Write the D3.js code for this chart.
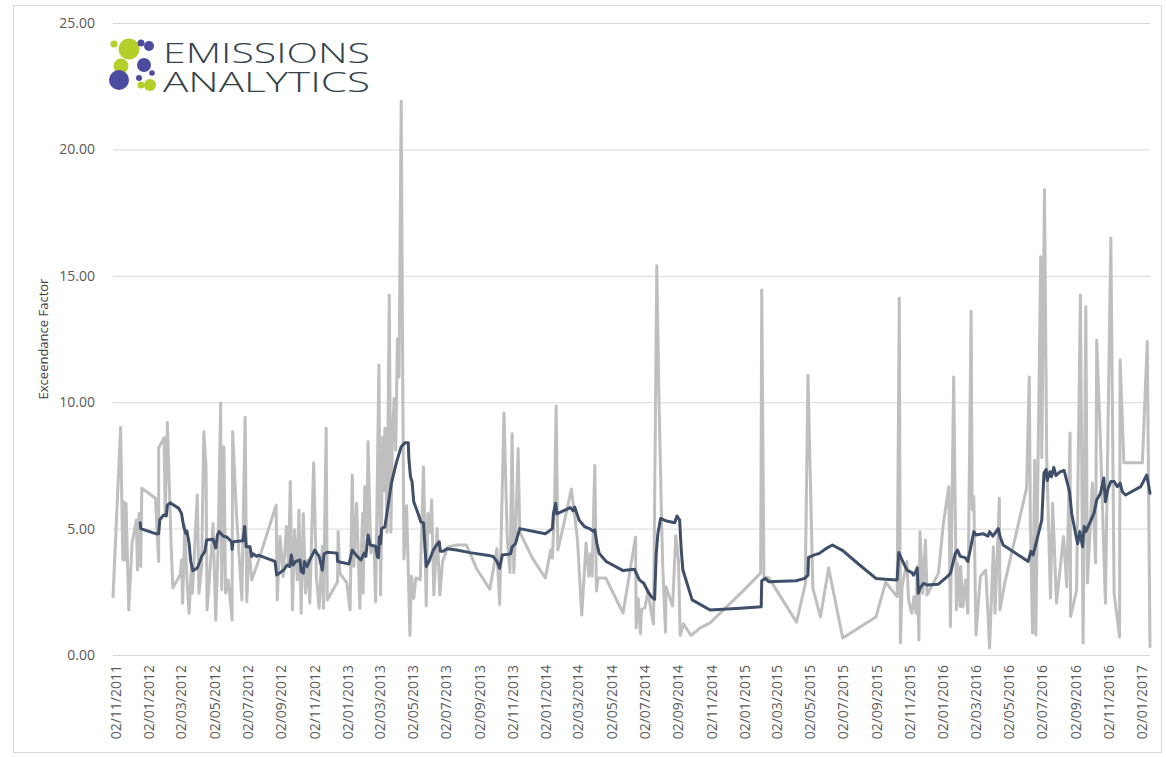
<!DOCTYPE html>
<html>
  <head>
    <meta charset="utf-8">
    <title>Exceendance factor over time</title>
    <meta name="viewport" content="width=device-width, initial-scale=1.0">
    <script src="https://cdn.jsdelivr.net/npm/d3@7/dist/d3.min.js"></script>
    <style>
      body { margin: 0; background: #fff; }
      #chart { display: block; }
      .axis text { font-family: "Open Sans", sans-serif; fill: #595959; }
      .axis .domain { display: none; }
      .grid line { stroke: #d9d9d9; }
    </style>
  </head>

  <body>
    <svg id="chart" width="1166" height="757">
      <rect id="frame"></rect>
      <g id="gridGroup" class="axis grid"></g>
      <g id="xAxisGroup" class="axis"></g>
      <text id="yTitle">Exceendance Factor</text>
      <path id="testLine"></path>
      <path id="avgLine"></path>
      <g id="logo"></g>
    </svg>

    <script>
      // individual test results
      testDates = [
        "2011-10-29","2011-11-12","2011-11-16","2011-11-18","2011-11-20","2011-11-22","2011-11-27","2011-12-03","2011-12-11","2011-12-13",
        "2011-12-16","2011-12-19","2011-12-21","2012-01-15","2012-01-21","2012-01-21","2012-01-31","2012-02-02","2012-02-06","2012-02-13",
        "2012-02-16","2012-03-01","2012-03-03","2012-03-05","2012-03-09","2012-03-13","2012-03-17","2012-03-21","2012-03-23","2012-04-01",
        "2012-04-04","2012-04-09","2012-04-13","2012-04-17","2012-04-19","2012-04-24","2012-04-30","2012-05-05","2012-05-09","2012-05-14",
        "2012-05-16","2012-05-20","2012-05-23","2012-05-28","2012-06-04","2012-06-05","2012-06-12","2012-06-22","2012-06-28","2012-07-01",
        "2012-07-05","2012-07-10","2012-07-19","2012-07-31","2012-08-24","2012-08-26","2012-08-31","2012-09-06","2012-09-12","2012-09-16",
        "2012-09-19","2012-09-23","2012-09-27","2012-10-02","2012-10-05","2012-10-09","2012-10-13","2012-10-17","2012-10-21","2012-10-25",
        "2012-11-01","2012-11-06","2012-11-11","2012-11-17","2012-11-19","2012-11-24","2012-11-26","2012-12-15","2012-12-16","2012-12-19",
        "2013-01-01","2013-01-07","2013-01-11","2013-01-14","2013-01-19","2013-01-25","2013-01-30","2013-01-31","2013-02-03","2013-02-07",
        "2013-02-09","2013-02-14","2013-02-20","2013-02-23","2013-03-01","2013-03-04","2013-03-08","2013-03-10","2013-03-12","2013-03-16",
        "2013-03-20","2013-03-23","2013-03-26","2013-03-29","2013-04-01","2013-04-04","2013-04-07","2013-04-11","2013-04-14","2013-04-16",
        "2013-04-21","2013-04-27","2013-04-30","2013-05-04","2013-05-08","2013-05-16","2013-05-22","2013-05-27","2013-05-30","2013-06-03",
        "2013-06-06","2013-06-10","2013-06-16","2013-06-21","2013-06-26","2013-07-06","2013-07-22","2013-08-09","2013-08-28","2013-09-21",
        "2013-10-04","2013-10-09","2013-10-17","2013-10-23","2013-10-28","2013-11-01","2013-11-04","2013-11-08","2013-11-12","2013-11-15",
        "2013-12-08","2014-01-01","2014-01-11","2014-01-14","2014-01-18","2014-01-21","2014-01-24","2014-02-04","2014-02-18","2014-03-01",
        "2014-03-09","2014-03-17","2014-03-22","2014-03-25","2014-03-28","2014-04-02","2014-04-05","2014-04-08","2014-04-22","2014-05-24",
        "2014-06-16","2014-06-17","2014-06-21","2014-06-25","2014-06-27","2014-07-03","2014-07-09","2014-07-15","2014-07-19","2014-07-25",
        "2014-07-29","2014-08-03","2014-08-05","2014-08-10","2014-08-11","2014-08-23","2014-08-29","2014-09-03","2014-09-06","2014-09-12",
        "2014-09-26","2014-10-13","2014-10-31","2014-12-26","2015-02-01","2015-02-03","2015-02-07","2015-02-16","2015-04-08","2015-04-24",
        "2015-04-29","2015-05-08","2015-05-22","2015-06-06","2015-07-02","2015-09-01","2015-09-19","2015-10-10","2015-10-14","2015-10-16",
        "2015-10-19","2015-10-28","2015-10-31","2015-11-06","2015-11-10","2015-11-14","2015-11-16","2015-11-19","2015-11-21","2015-11-26",
        "2015-12-01","2015-12-04","2015-12-25","2016-01-03","2016-01-13","2016-01-16","2016-01-22","2016-01-27","2016-01-29","2016-02-03",
        "2016-02-04","2016-02-08","2016-02-13","2016-02-17","2016-02-23","2016-02-25","2016-02-28","2016-03-03","2016-03-11","2016-03-21",
        "2016-03-28","2016-04-04","2016-04-07","2016-04-15","2016-04-16","2016-04-25","2016-06-04","2016-06-09","2016-06-11","2016-06-15",
        "2016-06-19","2016-06-21","2016-06-30","2016-07-02","2016-07-07","2016-07-11","2016-07-18","2016-07-22","2016-07-29","2016-08-11",
        "2016-08-17","2016-08-23","2016-08-24","2016-09-04","2016-09-11","2016-09-16","2016-09-21","2016-09-24","2016-10-03","2016-10-09",
        "2016-10-11","2016-10-18","2016-10-27","2016-11-06","2016-11-12","2016-11-22","2016-11-23","2016-11-30","2017-01-03","2017-01-12",
        "2017-01-17"
      ];
      testValues = [
        2.3, 9.0, 3.76, 6.06, 3.76, 6.0, 1.78, 4.4, 5.34, 3.36,
        5.6, 3.5, 6.6, 6.2, 3.7, 8.2, 8.6, 5.5, 9.2, 4.3,
        2.65, 3.2, 3.76, 2.05, 5.1, 2.97, 1.65, 3.5, 2.44, 6.33,
        2.44, 3.5, 8.83, 7.45, 1.78, 3.24, 5.2, 1.38, 4.03, 9.97,
        2.57, 8.24, 2.44, 2.97, 1.38, 8.83, 5.6, 2.18, 9.4, 2.1,
        4.3, 2.97, 3.5, 4.3, 5.93, 2.18, 4.7, 3.1, 5.08, 3.5,
        6.86, 1.78, 4.95, 2.97, 5.74, 1.65, 5.6, 2.44, 3.76, 2.05,
        7.6, 3.1, 1.85, 4.3, 1.85, 8.97, 2.18, 2.9, 4.88, 3.24,
        2.85, 1.78, 7.12, 3.5, 6.0, 1.85, 5.6, 2.44, 6.66, 4.8,
        8.44, 4.03, 4.28, 2.1, 11.47, 2.37, 8.6, 6.5, 8.98, 4.86,
        14.24, 4.86, 8.8, 10.15, 8.1, 12.5, 11.0, 21.9, 10.3, 3.8,
        5.9, 0.77, 3.12, 2.23, 3.05, 2.97, 7.44, 1.94, 5.6, 4.86,
        6.13, 2.37, 5.0, 2.37, 3.7, 4.27, 4.35, 4.35, 3.4, 2.6,
        4.2, 2.0, 9.57, 4.6, 3.26, 8.75, 3.26, 5.18, 8.17, 4.86,
        3.84, 3.05, 4.15, 3.84, 5.9, 9.85, 4.15, 5.18, 6.57, 4.6,
        1.58, 4.43, 3.12, 4.0, 3.12, 7.5, 2.53, 3.05, 3.05, 1.66,
        4.67, 1.07, 2.23, 0.84, 1.8, 1.86, 2.53, 1.66, 1.23, 15.4,
        10.15, 5.18, 3.5, 0.9, 2.7, 1.94, 4.72, 3.7, 0.77, 1.23,
        0.77, 1.07, 1.27, 2.44, 3.24, 14.44, 3.1, 3.05, 1.3, 2.8,
        11.07, 2.65, 1.5, 3.44, 0.67, 1.5, 2.88, 2.31, 14.12, 0.47,
        2.7, 3.7, 2.18, 1.65, 2.31, 1.65, 3.5, 0.59, 4.88, 2.44,
        4.55, 2.37, 3.24, 5.2, 6.66, 1.12, 11.0, 1.78, 3.6, 1.91,
        3.5, 1.9, 2.97, 1.65, 13.6, 5.74, 6.26, 0.79, 3.1, 3.36,
        0.28, 4.28, 1.65, 6.2, 1.78, 2.85, 6.6, 11.0, 5.2, 0.87,
        7.7, 0.79, 15.75, 7.8, 18.4, 7.85, 2.25, 6.0, 2.05, 4.68,
        2.7, 8.78, 1.52, 2.57, 14.24, 0.47, 13.78, 2.85, 6.8, 3.64,
        12.46, 8.39, 2.05, 16.5, 2.44, 0.71, 11.67, 7.6, 7.6, 12.4,
        0.33
      ];

      // rolling average
      avgDates = [
        "2011-12-18","2011-12-19","2012-01-15","2012-01-21","2012-01-23","2012-01-30","2012-02-04","2012-02-06","2012-02-11","2012-02-27",
        "2012-03-03","2012-03-07","2012-03-11","2012-03-13","2012-03-17","2012-03-20","2012-03-24","2012-04-01","2012-04-06","2012-04-09",
        "2012-04-15","2012-04-18","2012-04-30","2012-05-05","2012-05-08","2012-05-11","2012-05-19","2012-05-25","2012-06-03","2012-06-04",
        "2012-06-06","2012-06-24","2012-06-27","2012-06-30","2012-07-07","2012-07-10","2012-07-13","2012-07-19","2012-07-22","2012-08-22",
        "2012-08-25","2012-09-07","2012-09-13","2012-09-18","2012-09-21","2012-09-24","2012-09-29","2012-10-07","2012-10-09","2012-10-13",
        "2012-10-15","2012-10-20","2012-10-25","2012-11-03","2012-11-11","2012-11-17","2012-11-20","2012-11-26","2012-12-14","2012-12-15",
        "2013-01-05","2013-01-11","2013-01-20","2013-01-27","2013-02-02","2013-02-05","2013-02-09","2013-02-13","2013-02-23","2013-02-26",
        "2013-02-28","2013-03-02","2013-03-04","2013-03-06","2013-03-12","2013-03-24","2013-04-02","2013-04-11","2013-04-18","2013-04-24",
        "2013-04-25","2013-04-28","2013-05-01","2013-05-04","2013-05-12","2013-05-17","2013-05-22","2013-05-27","2013-06-01","2013-06-09",
        "2013-06-15","2013-06-20","2013-06-22","2013-06-27","2013-07-04","2013-07-22","2013-08-15","2013-09-16","2013-09-27","2013-10-04",
        "2013-10-09","2013-10-14","2013-10-29","2013-11-01","2013-11-07","2013-11-15","2014-01-01","2014-01-14","2014-01-16","2014-01-20",
        "2014-01-22","2014-02-16","2014-02-21","2014-02-24","2014-02-28","2014-03-04","2014-03-14","2014-03-23","2014-03-31","2014-04-02",
        "2014-04-06","2014-04-10","2014-04-23","2014-05-24","2014-06-14","2014-06-23","2014-07-01","2014-07-09","2014-07-15","2014-07-21",
        "2014-07-24","2014-07-27","2014-08-01","2014-08-12","2014-08-27","2014-08-31","2014-09-05","2014-09-08","2014-09-11","2014-09-28",
        "2014-10-31","2014-12-26","2015-02-02","2015-02-03","2015-02-10","2015-02-16","2015-04-07","2015-04-23","2015-04-29","2015-04-30",
        "2015-05-11","2015-05-20","2015-06-02","2015-06-13","2015-07-02","2015-08-02","2015-09-01","2015-09-18","2015-10-10","2015-10-13",
        "2015-10-19","2015-10-28","2015-11-06","2015-11-09","2015-11-14","2015-11-16","2015-11-18","2015-11-21","2015-11-28","2015-12-04",
        "2015-12-25","2016-01-10","2016-01-16","2016-01-25","2016-01-29","2016-02-03","2016-02-12","2016-02-17","2016-02-22","2016-02-28",
        "2016-03-03","2016-03-16","2016-03-25","2016-03-28","2016-04-03","2016-04-13","2016-04-16","2016-04-22","2016-06-07","2016-06-12",
        "2016-06-16","2016-06-23","2016-07-02","2016-07-06","2016-07-10","2016-07-12","2016-07-17","2016-07-20","2016-07-24","2016-07-28",
        "2016-08-05","2016-08-12","2016-08-22","2016-08-26","2016-09-04","2016-09-06","2016-09-10","2016-09-15","2016-09-18","2016-09-21",
        "2016-10-06","2016-10-11","2016-10-18","2016-10-24","2016-10-27","2016-11-01","2016-11-06","2016-11-12","2016-11-18","2016-11-23",
        "2016-11-27","2016-12-03","2016-12-31","2017-01-11","2017-01-17"
      ];
      avgValues = [
        5.23, 5.0, 4.8, 4.8, 5.34, 5.54, 5.5, 5.93, 6.02, 5.8,
        5.6, 5.08, 4.8, 4.9, 4.4, 3.7, 3.33, 3.44, 3.7, 3.9,
        4.1, 4.55, 4.58, 4.23, 4.75, 4.88, 4.7, 4.67, 4.48, 4.18,
        4.48, 4.52, 5.08, 4.28, 4.28, 3.9, 4.0, 3.9, 3.95, 3.7,
        3.16, 3.36, 3.56, 3.5, 3.96, 3.56, 3.7, 3.76, 3.3, 3.24,
        3.7, 3.5, 3.76, 4.15, 3.9, 3.36, 4.0, 4.06, 4.03, 3.7,
        3.6, 4.15, 3.9, 3.76, 4.03, 3.9, 4.75, 4.35, 4.3, 3.9,
        3.85, 4.68, 4.4, 5.0, 5.07, 6.8, 7.6, 8.24, 8.4, 8.4,
        7.8, 7.06, 6.86, 6.06, 5.6, 5.27, 5.23, 3.5, 3.7, 4.15,
        4.35, 4.48, 4.1, 4.1, 4.2, 4.15, 4.05, 3.95, 3.9, 3.7,
        3.43, 3.96, 4.0, 4.28, 4.4, 5.0, 4.8, 5.0, 5.6, 6.0,
        5.58, 5.83, 5.7, 5.85, 5.6, 5.34, 5.08, 5.0, 4.88, 4.95,
        4.4, 4.02, 3.7, 3.34, 3.39, 2.97, 2.84, 2.5, 2.31, 2.2,
        4.02, 4.8, 5.4, 5.3, 5.23, 5.5, 5.34, 4.15, 3.36, 2.18,
        1.78, 1.85, 1.91, 2.94, 3.03, 2.9, 2.94, 3.03, 3.16, 3.86,
        3.96, 4.02, 4.22, 4.35, 4.13, 3.56, 3.03, 3.0, 2.97, 4.05,
        3.76, 3.36, 3.26, 3.16, 3.33, 3.44, 2.44, 2.64, 2.84, 2.77,
        2.8, 3.1, 3.23, 4.02, 4.15, 3.9, 3.85, 3.7, 4.22, 4.88,
        4.75, 4.8, 4.7, 4.88, 4.7, 5.0, 4.7, 4.35, 3.7, 4.1,
        3.96, 4.55, 5.34, 7.2, 7.34, 6.9, 7.25, 7.05, 7.42, 7.1,
        7.25, 7.3, 6.46, 5.6, 4.6, 4.4, 4.88, 4.28, 5.08, 4.88,
        5.6, 6.13, 6.4, 7.0, 6.06, 6.6, 6.86, 6.86, 6.66, 6.8,
        6.46, 6.33, 6.66, 7.12, 6.4
      ];

      // axis
      yTicks = [0, 5, 10, 15, 20, 25];

      // logo drawing (decoration, not data)
      logoDots = [
        {cx: 114, cy: 44, r: 3.5, fill: "#b5cf2a"},
        {cx: 129, cy: 49, r: 10.5, fill: "#b5cf2a"},
        {cx: 141, cy: 43, r: 3.5, fill: "#4c4ba0"},
        {cx: 149, cy: 46, r: 5, fill: "#4c4ba0"},
        {cx: 121, cy: 66, r: 7.5, fill: "#b5cf2a"},
        {cx: 144, cy: 65, r: 7, fill: "#4c4ba0"},
        {cx: 152, cy: 73, r: 2.8, fill: "#4c4ba0"},
        {cx: 119, cy: 80, r: 10, fill: "#4c4ba0"},
        {cx: 139, cy: 78, r: 3, fill: "#4c4ba0"},
        {cx: 141, cy: 85, r: 3.5, fill: "#b5cf2a"},
        {cx: 150, cy: 85, r: 6, fill: "#b5cf2a"}
      ];

      // elements
      chart = d3.select("#chart");
      width = 1166;
      height = 757;
      margin = {top: 23, bottom: 102, left: 113, right: 16};

      parseDate = d3.timeParse("%Y-%m-%d");
      testData = testDates.map((d, i) => ({date: parseDate(d), value: testValues[i]}));
      avgData = avgDates.map((d, i) => ({date: parseDate(d), value: avgValues[i]}));

      x = d3.scaleTime()
          .domain(d3.extent(testData, d => d.date))
          .range([margin.left, width - margin.right]);

      y = d3.scaleLinear()
          .domain([0, 25])
          .range([height - margin.bottom, margin.top]);

      // chart area border
      chart.select("#frame")
          .attr("x", 13.5)
          .attr("y", 5.5)
          .attr("width", 1148)
          .attr("height", 747)
          .attr("fill", "none")
          .attr("stroke", "#d9d9d9");

      // y axis with gridlines
      yAxis = d3.axisLeft(y)
          .tickValues(yTicks)
          .tickFormat(d3.format(".2f"))
          .tickSize(-(width - margin.left - margin.right))
          .tickPadding(18);

      chart.select("#gridGroup")
          .attr("transform", "translate(" + margin.left + ",0)")
          .call(yAxis)
          .selectAll("text")
          .style("font-size", "14px");

      // x axis, every two months on the 2nd
      tickDates = d3.timeMonth.every(2)
          .range(new Date(2011, 10, 1), new Date(2017, 1, 1))
          .map(d => d3.timeDay.offset(d, 1));

      xAxis = d3.axisBottom(x)
          .tickValues(tickDates)
          .tickFormat(d3.timeFormat("%d/%m/%Y"))
          .tickSize(0);

      chart.select("#xAxisGroup")
          .attr("transform", "translate(0," + (height - margin.bottom) + ")")
          .call(xAxis)
          .selectAll("text")
          .style("font-size", "14px")
          .attr("text-anchor", "end")
          .attr("transform", "rotate(-90)")
          .attr("x", -10)
          .attr("y", 0)
          .attr("dy", "0.35em");

      chart.select("#yTitle")
          .attr("transform", "translate(48," + ((margin.top + height - margin.bottom) / 2) + ") rotate(-90)")
          .attr("text-anchor", "middle")
          .style("font-family", "'Open Sans', sans-serif")
          .style("font-size", "13px")
          .attr("fill", "#404040");

      // lines
      linePath = d3.line()
          .x(d => x(d.date))
          .y(d => y(d.value));

      chart.select("#testLine")
          .attr("d", linePath(testData))
          .attr("fill", "none")
          .attr("stroke", "#bfbfbf")
          .attr("stroke-width", 3)
          .attr("stroke-linejoin", "round")
          .attr("stroke-linecap", "round");

      chart.select("#avgLine")
          .attr("d", linePath(avgData))
          .attr("fill", "none")
          .attr("stroke", "#3f4f69")
          .attr("stroke-width", 3)
          .attr("stroke-linejoin", "round")
          .attr("stroke-linecap", "round");

      // logo
      logo = chart.select("#logo");
      logo.selectAll("circle")
          .data(logoDots)
          .join("circle")
          .attr("cx", d => d.cx)
          .attr("cy", d => d.cy)
          .attr("r", d => d.r)
          .attr("fill", d => d.fill);

      // one text block, two lines
      logoText = logo.append("text")
          .style("font-family", "'Open Sans', sans-serif")
          .style("font-weight", 300)
          .style("font-size", "28px")
          .attr("fill", "#34424b");

      logoText.selectAll("tspan")
          .data(["EMISSIONS", "ANALYTICS"])
          .join("tspan")
          .attr("x", 163)
          .attr("y", (d, i) => 63 + i * 29)
          .attr("textLength", 207)
          .attr("lengthAdjust", "spacingAndGlyphs")
          .text(d => d);
    </script>
  </body>
</html>
